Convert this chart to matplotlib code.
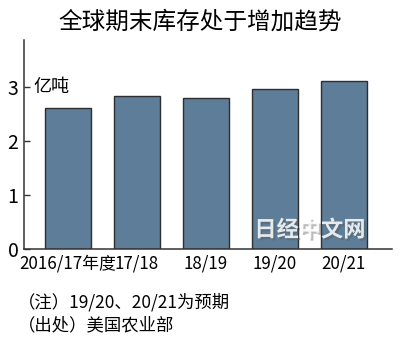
import matplotlib.pyplot as plt
import matplotlib.patheffects as pe

plt.rcParams['font.family'] = ['Noto Sans CJK SC', 'DejaVu Sans']

# data (亿吨)
seasons = ["2016/17年度", "17/18", "18/19", "19/20", "20/21"]
stocks = [2.62, 2.83, 2.80, 2.96, 3.11]
yticks = [0, 1, 2, 3]

title = "全球期末库存处于增加趋势"
unit = "亿吨"
notes = ["（注）19/20、20/21为预期", "（出处）美国农业部"]

fig = plt.figure(figsize=(4.0, 3.45), dpi=100)
ax = fig.add_axes([0.06, 0.278, 0.92, 0.606])

x = list(range(len(seasons)))
ax.bar(x, stocks, width=0.667, color="#5e7d99", edgecolor="#2e2e2e", linewidth=1.0)

ax.set_xlim(-0.64, 4.70)
ax.set_ylim(0, 3.87)
ax.set_xticks(x)
ax.set_xticklabels(seasons, fontsize=12.2)
ax.set_yticks(yticks)
ax.set_yticklabels([str(v) for v in yticks], fontsize=14)
ax.tick_params(axis="y", direction="in", length=4, width=1, color="#333333", pad=4)
ax.tick_params(axis="x", length=0, pad=4)
for s in ["top", "right"]:
    ax.spines[s].set_visible(False)
for s in ["left", "bottom"]:
    ax.spines[s].set_color("#333333")
    ax.spines[s].set_linewidth(1.1)

ax.text(-0.5, 3.0, unit, fontsize=13, va="center", ha="left")

fig.text(0.5, 0.936, title, fontsize=17, ha="center", va="center")
fig.text(0.045, 0.125, notes[0], fontsize=12.5, ha="left", va="center")
fig.text(0.045, 0.058, notes[1], fontsize=12.5, ha="left", va="center")

# watermark
fig.text(0.775, 0.333, "日经中文网", fontsize=16, fontweight="bold", ha="center", va="center",
         color="white", alpha=0.85,
         path_effects=[pe.withSimplePatchShadow(offset=(1.5, -1.5), shadow_rgbFace="#555555", alpha=0.4)])

fig.savefig("out.png", dpi=100)
